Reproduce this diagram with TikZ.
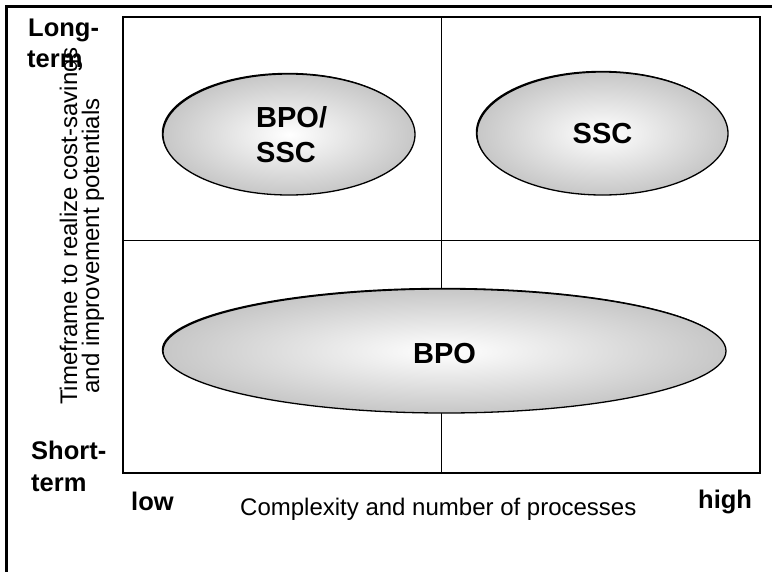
\documentclass[tikz,border=0pt]{standalone}
\usepackage{fontspec}
\setmainfont{Liberation Sans}
\usetikzlibrary{shapes.geometric}
\begin{document}
\begin{tikzpicture}[x=1pt,y=-1pt,
  axislabel/.style={inner sep=0pt,anchor=base west,font=\fontsize{25.5}{28}\selectfont\bfseries},
  plainlabel/.style={inner sep=0pt,font=\fontsize{24}{27}\selectfont},
  bubble/.style={ellipse,draw=black,line width=1.3pt,inner sep=0pt,
    shading=radial,inner color=white,outer color=black!22},
  bubbletext/.style={inner sep=0pt,font=\fontsize{29}{35}\selectfont\bfseries,align=left}]
\useasboundingbox (0,0) rectangle (772,571);
% outer frame
\draw[line width=2.2pt] (6.5,575) -- (6.5,6.5) -- (776,6.5);
% quadrant box and dividing lines
\draw[line width=1.8pt] (123,17) rectangle (760,473);
\draw[line width=1.3pt] (441.5,17) -- (441.5,473);
\draw[line width=1.3pt] (123,240.5) -- (760,240.5);
% bubbles (dark rim offset gives the heavier top-left edge)
\foreach \cx/\cy/\rx/\ry in {289/134.5/126/60.5, 602.5/133.5/125.5/61.5, 444.5/351/281.5/62}
  \fill[black] (\cx-1.2,\cy-1.2) ellipse [x radius=\rx, y radius=\ry];
\node[bubble,minimum width=252pt,minimum height=121pt] (bs) at (289,134.5) {};
\node[bubble,minimum width=251pt,minimum height=123pt] (ssc) at (602.5,133.5) {};
\node[bubble,minimum width=563pt,minimum height=124pt] (bpo) at (444.5,351) {};
\node[bubbletext,anchor=base west] (bstxt) at (256,162) {BPO/\\SSC};
\node[bubbletext,anchor=base] (ssctxt) at (602.5,143) {SSC};
\node[bubbletext,anchor=base] (bpotxt) at (444.5,363) {BPO};
% axis end labels
\node[axislabel] (lt1) at (28,36) {Long-};
\node[axislabel] (lt2) at (27,67) {term};
\node[axislabel] (st1) at (31,459) {Short-};
\node[axislabel] (st2) at (31,491) {term};
\node[axislabel] (low) at (131,510) {low};
\node[axislabel] (high) at (698,508) {high};
% axis titles
\node[plainlabel,anchor=base west] (xt) at (240,515) {Complexity and number of processes};
\node[plainlabel,anchor=base,rotate=90] (yt1) at (77,226) {Timeframe to realize cost-savings};
\node[plainlabel,anchor=base,rotate=90] (yt2) at (99,246) {and improvement potentials};
\end{tikzpicture}
\end{document}
